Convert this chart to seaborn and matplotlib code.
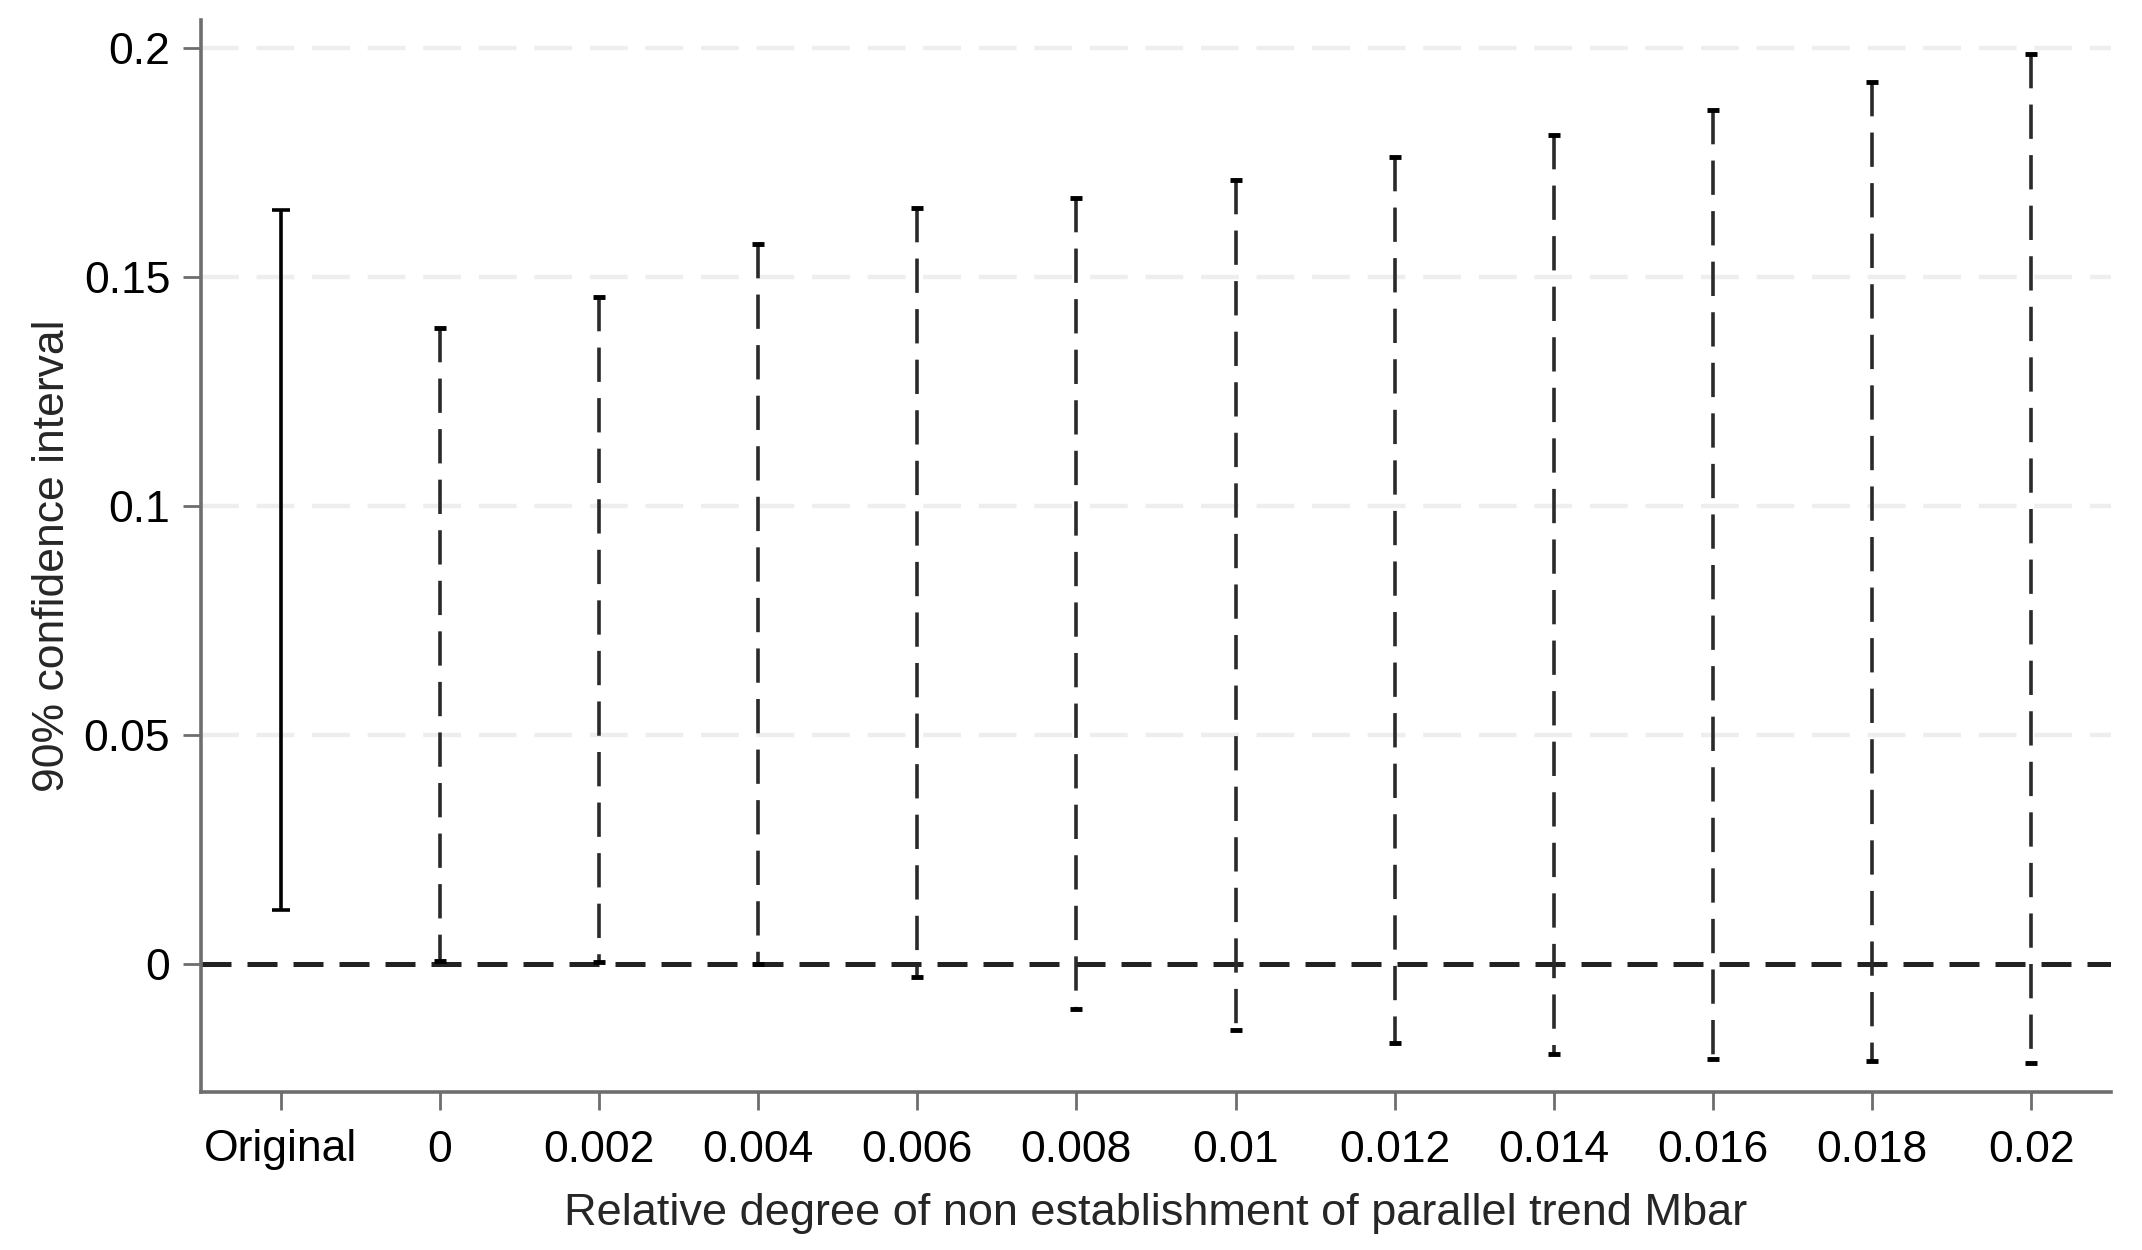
import numpy as np
import matplotlib
matplotlib.use("Agg")
import matplotlib.pyplot as plt
import pandas as pd
import seaborn as sns

# values
labels = ["Original", "0", "0.002", "0.004", "0.006", "0.008",
          "0.01", "0.012", "0.014", "0.016", "0.018", "0.02"]
ci_low = [0.0118, 0.0007, 0.0003, 0.0000, -0.0029, -0.0099,
          -0.0144, -0.0173, -0.0197, -0.0207, -0.0213, -0.0217]
ci_high = [0.1646, 0.1390, 0.1457, 0.1573, 0.1651, 0.1673,
           0.1713, 0.1763, 0.1810, 0.1865, 0.1926, 0.1987]
y_ticks = [0, 0.05, 0.1, 0.15, 0.2]
y_ticklabels = ["0", "0.05", "0.1", "0.15", "0.2"]

sns.set_style("white")
plt.rcParams['font.family'] = ['Liberation Sans', 'DejaVu Sans']

df = pd.DataFrame({'label': labels, 'lo': ci_low, 'hi': ci_high})
df['pos'] = np.arange(len(df))
df['mid'] = (df['lo'] + df['hi']) / 2
df['half'] = (df['hi'] - df['lo']) / 2

fig = plt.figure(figsize=(21.42, 12.5), dpi=100)
ax = fig.add_axes([0.0938, 0.1264, 0.8917, 0.8576])

spine_col = '#6e6e6e'

# light dashed grid
for yv in y_ticks[1:]:
    ax.axhline(yv, color='#eeeeee', lw=3.2, ls=(0, (8.5, 4)), zorder=0)
# zero reference line
ax.axhline(0, color='#222222', lw=3.6, ls=(0, (6, 3.2)), zorder=1)

orig = df.iloc[:1]
rest = df.iloc[1:]

eb = ax.errorbar(orig['pos'], orig['mid'], yerr=orig['half'], fmt='none',
                 ecolor='black', elinewidth=2.6, capsize=6.5, capthick=2.6,
                 zorder=3)

# dashed bars, dash pattern running from the top down
ax.vlines(rest['pos'], rest['hi'], rest['lo'], colors='#2a2a2a',
          linewidth=2.6, linestyles=(0, (9.5, 4.5)), zorder=3)
ax.scatter(rest['pos'], rest['hi'], marker='_', s=80, linewidths=3.5,
           color='black', zorder=4)
ax.scatter(rest['pos'], rest['lo'], marker='_', s=80, linewidths=3.5,
           color='black', zorder=4)

ax.set_xlim(-0.5, 11.5)
ax.set_ylim(-0.028, 0.2062)
ax.set_xticks(df['pos'])
ax.set_xticklabels(df['label'])
ax.set_yticks(y_ticks)
ax.set_yticklabels(y_ticklabels)

sns.despine(ax=ax)
for side in ['left', 'bottom']:
    ax.spines[side].set_color(spine_col)
    ax.spines[side].set_linewidth(2.6)

ax.tick_params(axis='both', which='major', labelsize=32, length=13,
               width=2, color=spine_col, labelcolor='black', pad=9,
               left=True, bottom=True)
ax.tick_params(axis='x', pad=14)

ax.set_xlabel("Relative degree of non establishment of parallel trend Mbar",
              fontsize=32.5, labelpad=16)
ax.set_ylabel("90% confidence interval", fontsize=32, labelpad=8)

fig.savefig("out.png", dpi=100, facecolor='white')
